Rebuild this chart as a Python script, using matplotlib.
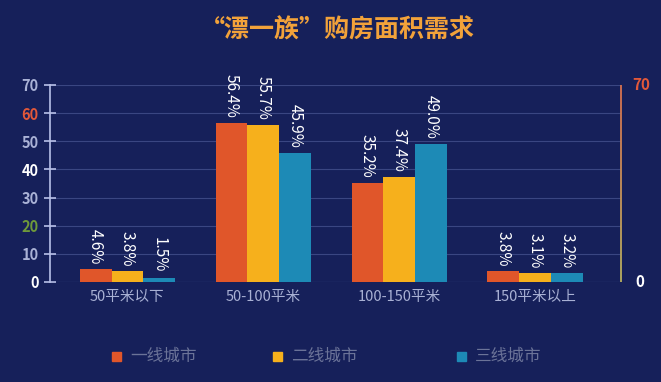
import matplotlib.pyplot as plt
import numpy as np
from matplotlib.collections import LineCollection
from matplotlib.colors import LinearSegmentedColormap

plt.rcParams['font.family'] = ['Noto Sans CJK SC', 'DejaVu Sans']

# data
categories = ['50平米以下', '50-100平米', '100-150平米', '150平米以上']
series_names = ['一线城市', '二线城市', '三线城市']
tier1 = [4.6, 56.4, 35.2, 3.8]
tier2 = [3.8, 55.7, 37.4, 3.1]
tier3 = [1.5, 45.9, 49.0, 3.2]
yticks = [0, 10, 20, 30, 40, 50, 60, 70]

bg = '#16205a'
colors = ['#e0562a', '#f6b01c', '#1d8ab6']
tick_colors = ['#ffffff', '#aab2d6', '#6f9a3a', '#aab2d6', '#ffffff', '#aab2d6', '#e2583a', '#aab2d6']

fig = plt.figure(figsize=(6.61, 3.82), dpi=100, facecolor=bg)
ax = fig.add_axes([0.0756, 0.2618, 0.864, 0.5157], facecolor=bg)

x = np.arange(len(categories))
w = 0.235
for i, vals in enumerate([tier1, tier2, tier3]):
    pos = x + (i - 1) * w
    ax.bar(pos, vals, width=w, color=colors[i], zorder=3)
    for px, v in zip(pos, vals):
        ax.text(px, v + 1.8, f'{v:.1f}%', rotation=-90, ha='center', va='bottom',
                color='white', fontsize=11, zorder=4)

ax.set_xlim(-0.57, 3.63)
ax.set_ylim(0, 70)
ax.set_yticks(yticks)
ax.set_yticklabels([str(t) for t in yticks], fontsize=10.5, fontweight='bold')
for lbl, c in zip(ax.get_yticklabels(), tick_colors):
    lbl.set_color(c)
ax.tick_params(axis='y', direction='inout', length=8, width=1.2, color='#b8c0e8', pad=4)
ax.set_xticks(x)
ax.set_xticklabels(categories, fontsize=10.5, color='#a9b1d4')
ax.tick_params(axis='x', length=0, pad=6)

ax.grid(axis='y', color='#3a4682', linewidth=0.8, zorder=0)
ax.axhline(0, color='#4a5590', linewidth=0.8, zorder=2)

for s in ['top', 'bottom', 'right']:
    ax.spines[s].set_visible(False)
ax.spines['left'].set_color('#b8c0e8')
ax.spines['left'].set_linewidth(1.2)

# right axis with gradient line
yy = np.linspace(0, 1, 60)
segs = [[(1, yy[k]), (1, yy[k + 1])] for k in range(len(yy) - 1)]
cmap = LinearSegmentedColormap.from_list('g', ['#b8b060', '#d87050'])
lc = LineCollection(segs, colors=cmap(yy[:-1]), linewidths=1.3, transform=ax.transAxes, clip_on=False)
ax.add_collection(lc)
ax.text(1.02, 1.0, '70', transform=ax.transAxes, color='#e2583a', fontsize=11,
        fontweight='bold', ha='left', va='center')
ax.text(1.025, 0.0, '0', transform=ax.transAxes, color='white', fontsize=11,
        fontweight='bold', ha='left', va='center')

fig.text(0.51, 0.92, '“漂一族”购房面积需求', ha='center', va='center',
         fontsize=18, fontweight='bold', color='#f2a23a')

# legend
leg_x = [0.17, 0.413, 0.691]
for lx, c, name in zip(leg_x, colors, series_names):
    fig.patches.append(plt.Rectangle((lx, 0.055), 0.0136, 0.024, color=c,
                                     transform=fig.transFigure))
    fig.text(lx + 0.027, 0.067, name, color='#6b7398', fontsize=12, ha='left', va='center')

fig.savefig('out.png', dpi=100, facecolor=bg)
